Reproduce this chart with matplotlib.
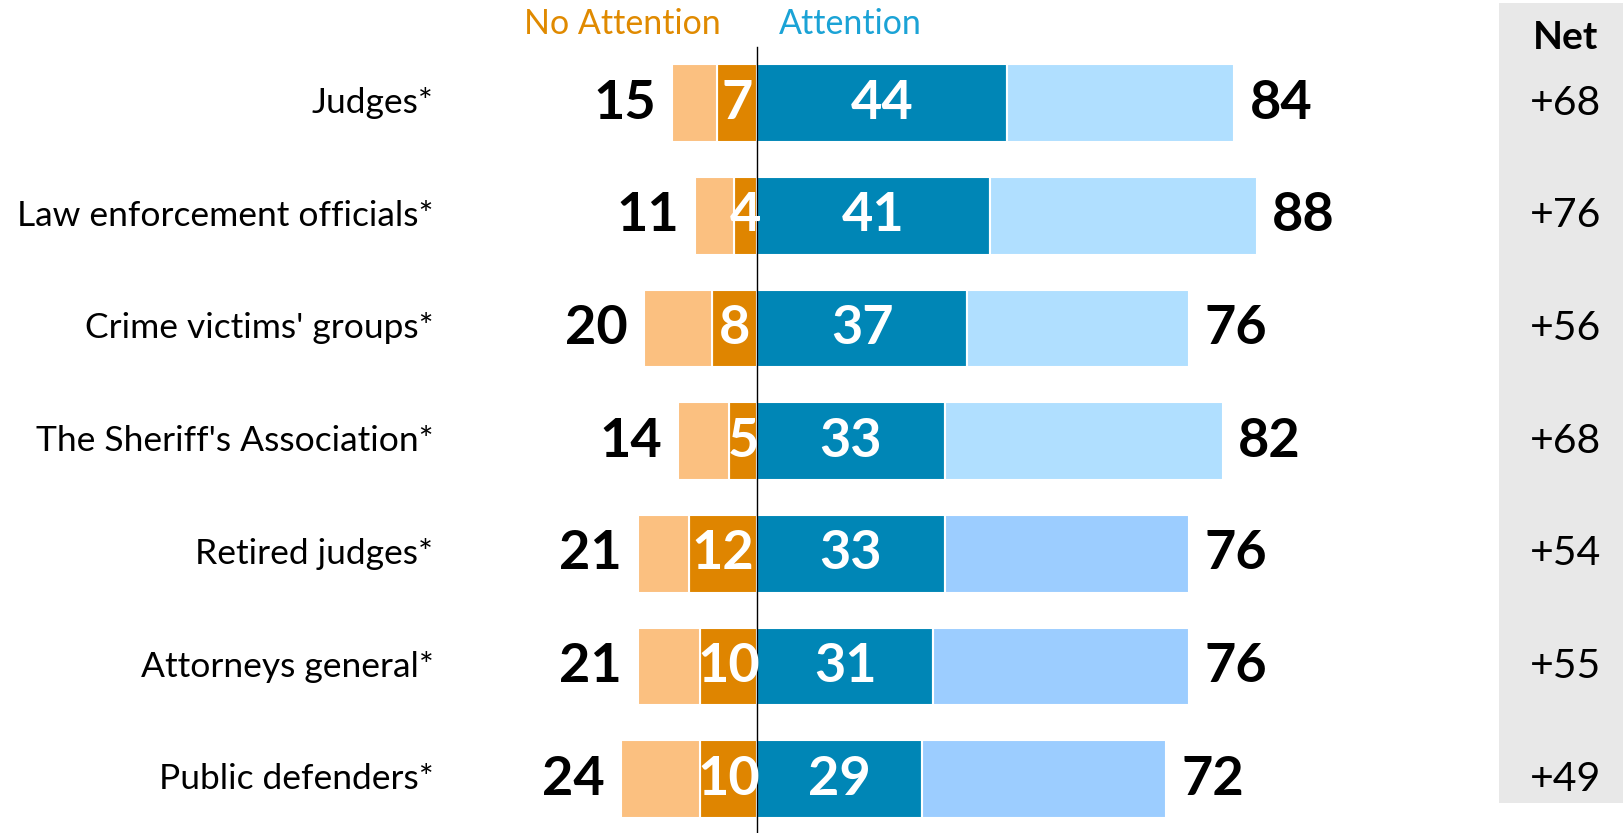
import matplotlib
matplotlib.use('Agg')
import matplotlib.pyplot as plt
from matplotlib.patches import Rectangle

plt.rcParams['font.family'] = ['Lato', 'DejaVu Sans']

# data

categories = ['Judges*', 'Law enforcement officials*', "Crime victims' groups*",
              "The Sheriff's Association*", 'Retired judges*', 'Attorneys general*',
              'Public defenders*']
att_strong = [44, 41, 37, 33, 33, 31, 29]
att_total = [84, 88, 76, 82, 76, 76, 72]
no_strong = [7, 4, 8, 5, 12, 10, 10]
no_total = [15, 11, 20, 14, 21, 21, 24]
net = [68, 76, 56, 68, 54, 55, 49]

# colours

dark_orange = '#DF8500'
light_orange = '#FBC080'
dark_blue = '#0086B6'
light_blues = ['#B0DFFF'] * 4 + ['#9CCDFF'] * 3

fig = plt.figure(figsize = (16.24, 8.33), dpi = 100)
ax = fig.add_axes([0, 0, 1, 1])
ax.set_xlim(-133.3, 152.6)
ax.set_ylim(6.477, -0.914)
ax.axis('off')

y = list(range(len(categories)))
h = 0.69
ekw = dict(edgecolor = 'white', linewidth = 1.5, height = h)

# net column background
ax.add_patch(Rectangle((130.6, -0.887), 30, 7.1, facecolor = '#E8E8E8', edgecolor = 'none', zorder = 0))

# attention bars
ax.barh(y, att_strong, color = dark_blue, **ekw)
ax.barh(y, [t - s for t, s in zip(att_total, att_strong)], left = att_strong, color = light_blues, **ekw)

# no-attention bars
ax.barh(y, [-s for s in no_strong], color = dark_orange, **ekw)
ax.barh(y, [-(t - s) for t, s in zip(no_total, no_strong)], left = [-s for s in no_strong],
        color = light_orange, **ekw)

# centre line
ax.plot([0, 0], [-0.5, 6.5], color = 'black', linewidth = 1, zorder = 5)

for i, cat in enumerate(categories):
    ax.text(-57, i, cat, ha = 'right', va = 'center', fontsize = 25.5)
    ax.text(att_strong[i] / 2, i, str(att_strong[i]), ha = 'center', va = 'center',
            fontsize = 39, fontweight = 'bold', color = 'white', zorder = 6)
    ax.text(-no_strong[i] / 2, i, str(no_strong[i]), ha = 'center', va = 'center',
            fontsize = 39, fontweight = 'bold', color = 'white', zorder = 6)
    ax.text(att_total[i] + 8.2, i, str(att_total[i]), ha = 'center', va = 'center',
            fontsize = 39, fontweight = 'bold', color = 'black')
    ax.text(-(no_total[i] + 8.3), i, str(no_total[i]), ha = 'center', va = 'center',
            fontsize = 39, fontweight = 'bold', color = 'black')
    ax.text(142.3, i, '+%d' % net[i], ha = 'center', va = 'center', fontsize = 29.5)

# headers
ax.text(-23.8, -0.70, 'No Attention', ha = 'center', va = 'center', fontsize = 24.5, color = '#E08A00')
ax.text(16.4, -0.70, 'Attention', ha = 'center', va = 'center', fontsize = 24.5, color = '#1BA3D6')
ax.text(142.3, -0.58, 'Net', ha = 'center', va = 'center', fontsize = 28, fontweight = 'bold')

fig.savefig('out.png', dpi = 100)
